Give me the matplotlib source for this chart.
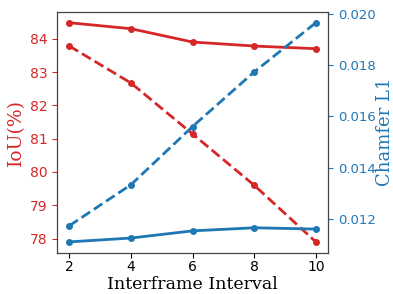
import matplotlib.pyplot as plt

intervals = [2, 4, 6, 8, 10]
iou_solid = [84.48, 84.30, 83.90, 83.78, 83.70]
iou_dashed = [83.78, 82.67, 81.14, 79.60, 77.90]
chamfer_solid = [0.01110, 0.01125, 0.01153, 0.01165, 0.01160]
chamfer_dashed = [0.01173, 0.01333, 0.01560, 0.01773, 0.01965]

red = '#d62728'
blue = '#1f77b4'

fig, ax1 = plt.subplots(figsize=(3.93, 2.94), dpi=100)
ax2 = ax1.twinx()

ax1.plot(intervals, iou_solid, color=red, marker='o', markersize=4, lw=2)
ax1.plot(intervals, iou_dashed, color=red, marker='o', markersize=4, lw=2, ls='--')
ax2.plot(intervals, chamfer_solid, color=blue, marker='o', markersize=4, lw=2)
ax2.plot(intervals, chamfer_dashed, color=blue, marker='o', markersize=4, lw=2, ls='--')

ax1.set_xticks(intervals)
ax1.set_yticks([78, 79, 80, 81, 82, 83, 84])
ax2.set_yticks([0.012, 0.014, 0.016, 0.018, 0.020])
ax2.set_yticklabels(['0.012', '0.014', '0.016', '0.018', '0.020'])

ax1.set_xlabel('Interframe Interval', family='DejaVu Serif', fontsize=12.5, labelpad=1)
ax1.set_ylabel('IoU(%)', family='DejaVu Serif', fontsize=13.5, color=red, labelpad=3)
ax2.set_ylabel('Chamfer L1', family='DejaVu Serif', fontsize=13, color=blue, labelpad=0)
ax1.tick_params(axis='y', colors=red, labelsize=10)
ax1.tick_params(axis='x', labelsize=10, pad=2)
ax2.tick_params(axis='y', colors=blue, labelsize=9.5)
for sp in ax2.spines.values():
    sp.set_color('#444444')

fig.subplots_adjust(left=0.145, right=0.835, top=0.96, bottom=0.14)
fig.savefig('out.png')
